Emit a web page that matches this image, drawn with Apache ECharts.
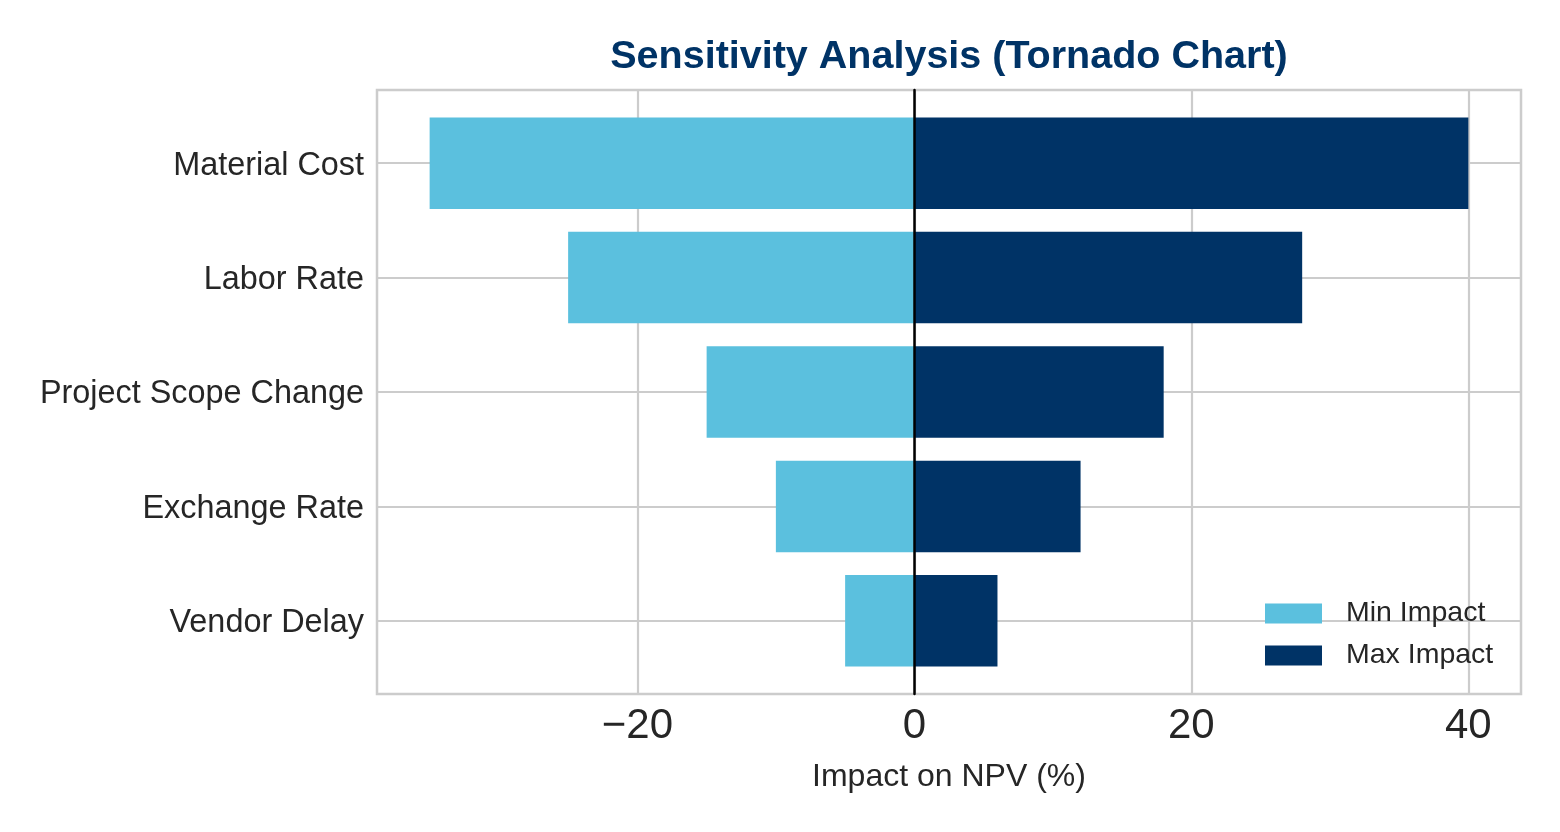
<!DOCTYPE html>
<html>
<head>
  <meta charset="utf-8">
  <title>Tornado Chart</title>
  <script src="https://cdn.jsdelivr.net/npm/echarts@6.0.0/dist/echarts.min.js"></script>
</head>
<body style="margin:0;">
  <div id="main" style="width:1560px; height:832px;"></div>
  <script type="text/javascript">
    // data
    const categories = ['Material Cost', 'Labor Rate', 'Project Scope Change', 'Exchange Rate', 'Vendor Delay'];
    const minImpact = [-35, -25, -15, -10, -5];
    const maxImpact = [40, 28, 18, 12, 6];
    const xTicks = [-20, 0, 20, 40];
    const catIdx = categories.map((c, i) => i);

    const font = 'Liberation Sans';
    const textColor = '#262626';
    const gridColor = '#cccccc';
    const xMin = -38.8, xMax = 43.8;

    var myChart = echarts.init(document.getElementById('main'));

    var option = {
      textStyle: { fontFamily: font },
      title: {
        text: 'Sensitivity Analysis (Tornado Chart)',
        left: 949,
        textAlign: 'center',
        top: 37,
        padding: 0,
        textStyle: { fontFamily: font, fontSize: 39.5, fontWeight: 'bold', color: '#003366' }
      },
      legend: {
        orient: 'vertical',
        left: 1265,
        top: 599,
        padding: 0,
        itemWidth: 57,
        itemHeight: 20,
        itemGap: 13,
        icon: 'rect',
        textStyle: { fontFamily: font, fontSize: 28.5, color: textColor, padding: [0, 0, 0, 19] },
        data: ['Min Impact', 'Max Impact']
      },
      grid: [
        // outer plot box: border, gridlines, labels
        { left: 377, right: 39, top: 90, bottom: 138, show: true, borderColor: gridColor, borderWidth: 2.5, backgroundColor: 'transparent' },
        // inner grid holding the category bands for the bars
        { left: 377, right: 39, top: 106, bottom: 154 }
      ],
      xAxis: [
        {
          gridIndex: 0, type: 'value', min: xMin, max: xMax,
          axisLine: { show: false, onZero: false },
          axisTick: { show: false, customValues: xTicks },
          axisLabel: { customValues: xTicks, fontSize: 42, color: textColor, margin: 11,
            formatter: v => (v < 0 ? '\u2212' + Math.abs(v) : String(v)) },
          splitLine: { show: true, lineStyle: { color: gridColor, width: 2.2 } },
          name: 'Impact on NPV (%)', nameLocation: 'middle', nameGap: 67,
          nameTextStyle: { fontSize: 32, color: textColor, fontFamily: font }
        },
        { gridIndex: 1, type: 'value', min: xMin, max: xMax, show: false }
      ],
      yAxis: [
        {
          gridIndex: 0, type: 'value', inverse: true, min: -0.64, max: 4.64,
          axisLine: { show: false, onZero: false },
          axisTick: { show: false, customValues: catIdx },
          axisLabel: { customValues: catIdx, margin: 13,
            formatter: v => '{c|' + (categories[Math.round(v)] || '') + '}',
            rich: { c: { fontFamily: font, fontSize: 32.4, color: textColor, padding: [5, 0, 0, 0] } } },
          splitLine: { show: true, lineStyle: { color: gridColor, width: 2.2 } }
        },
        { gridIndex: 1, type: 'category', inverse: true, data: categories, show: false },
        {
          // zero line
          gridIndex: 0, type: 'value', inverse: true, min: -0.64, max: 4.64, z: 10,
          axisLine: { show: true, onZero: true, onZeroAxisIndex: 0, lineStyle: { color: '#000', width: 2.5 } },
          axisTick: { show: false }, axisLabel: { show: false }, splitLine: { show: false }
        }
      ],
      series: [
        {
          name: 'Min Impact', type: 'bar', xAxisIndex: 1, yAxisIndex: 1,
          barWidth: '80%', barGap: '-100%',
          itemStyle: { color: '#5bc0de' },
          data: minImpact
        },
        {
          name: 'Max Impact', type: 'bar', xAxisIndex: 1, yAxisIndex: 1,
          barWidth: '80%', barGap: '-100%',
          itemStyle: { color: '#003366' },
          data: maxImpact
        }
      ]
    };

    myChart.setOption(option);
  </script>
</body>
</html>
